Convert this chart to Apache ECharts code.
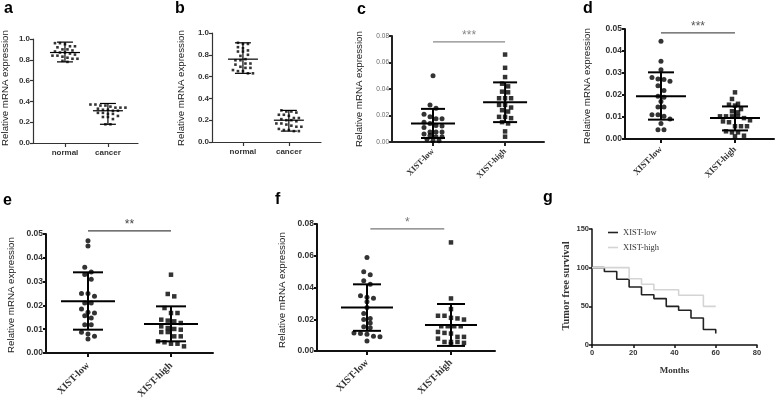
<!DOCTYPE html>
<html><head><meta charset="utf-8">
<script src="https://cdn.jsdelivr.net/npm/echarts@6/dist/echarts.min.js"></script>
<style>html,body{margin:0;padding:0;background:#fff}#c{width:779px;height:402px}</style>
</head><body><div id="c"></div>
<script>
// ---------- data ----------
const catsAB = ['normal', 'cancer'];
const catsXIST = ['XIST-low', 'XIST-high'];
const yTitle = 'Relative mRNA expression';

const aNormal = [0.96,0.96,0.95,0.93,0.93,0.92,0.90,0.90,0.89,0.88,0.87,0.87,0.86,0.85,0.84,0.84,0.83,0.82,0.81,0.81,0.79,0.78];
const aCancer = [0.37,0.37,0.36,0.36,0.35,0.34,0.34,0.34,0.33,0.32,0.32,0.31,0.31,0.29,0.29,0.28,0.28,0.26,0.25,0.25,0.23,0.18,0.18];
const aMean = [0.87, 0.31], aLo = [0.78, 0.18], aHi = [0.97, 0.38];

const bNormal = [0.91,0.90,0.90,0.87,0.86,0.84,0.83,0.83,0.80,0.79,0.76,0.75,0.75,0.72,0.72,0.71,0.69,0.68,0.68,0.66,0.65,0.65,0.63,0.63];
const bCancer = [0.29,0.28,0.28,0.27,0.25,0.25,0.24,0.22,0.22,0.21,0.20,0.20,0.19,0.17,0.17,0.16,0.15,0.14,0.14,0.12,0.11,0.11,0.10,0.10];
const bMean = [0.76, 0.20], bLo = [0.63, 0.10], bHi = [0.91, 0.29];

const cLow = [0.050,0.028,0.0255,0.021,0.019,0.0175,0.0175,0.015,0.014,0.0125,0.012,0.011,0.0075,0.0075,0.0075,0.006,0.005,0.004,0.004,0.002,0.001,0.001];
const cHigh = [0.066,0.056,0.049,0.044,0.042,0.038,0.0375,0.033,0.033,0.033,0.028,0.028,0.026,0.024,0.023,0.019,0.019,0.018,0.015,0.014,0.008,0.004];
const cMean = [0.014, 0.030], cLo = [0.003, 0.015], cHi = [0.025, 0.045];

const dLow = [0.0444,0.0353,0.0315,0.028,0.0273,0.027,0.0262,0.0242,0.0221,0.0194,0.019,0.0171,0.0145,0.0145,0.011,0.011,0.0103,0.0091,0.007,0.0042,0.0042];
const dHigh = [0.0212,0.0182,0.016,0.0156,0.0152,0.0136,0.0126,0.0121,0.0103,0.0103,0.0103,0.0103,0.0095,0.0085,0.008,0.0076,0.0058,0.0058,0.0058,0.0035,0.003,0.003,0.0015,0.0012];
const dMean = [0.0194, 0.0095], dLo = [0.0088, 0.0039], dHi = [0.0303, 0.0148];

const eLow = [0.0472,0.045,0.036,0.034,0.033,0.031,0.025,0.025,0.0238,0.021,0.021,0.0185,0.0171,0.0168,0.0157,0.0147,0.0119,0.0119,0.0087,0.008,0.007,0.0059];
const eHigh = [0.0329,0.0248,0.0238,0.0189,0.0168,0.0168,0.014,0.0136,0.0133,0.0126,0.0112,0.0105,0.0101,0.0098,0.0088,0.0088,0.007,0.007,0.0049,0.0045,0.0039,0.0039,0.0028];
const eMean = [0.0217, 0.0122], eLo = [0.0098, 0.0049], eHi = [0.0339, 0.0196];

const fLow = [0.0589,0.05,0.048,0.0443,0.042,0.0348,0.0338,0.0333,0.031,0.0274,0.0236,0.0205,0.0198,0.0177,0.0152,0.0146,0.0114,0.011,0.0106,0.0093,0.0089,0.0063];
const fHigh = [0.0684,0.0331,0.0264,0.0222,0.0222,0.0209,0.0205,0.0198,0.0156,0.0156,0.0156,0.0156,0.012,0.0114,0.011,0.0089,0.0089,0.0078,0.0057,0.0057,0.0057,0.0051,0.0042];
const fMean = [0.0274, 0.0163], fLo = [0.0127, 0.0032], fHi = [0.042, 0.0296];

// significance bars: [from category, to category, level], text
const cSig = [1, 2, 0.0755], cSigText = '***';
const dSig = [1, 2, 0.0482], dSigText = '***';
const eSig = [1, 2, 0.0513], eSigText = '**';
const fSig = [1.04, 1.92, 0.0769], fSigText = '*';

// survival (g)
const gLowMonths = [0, 6, 12, 18, 24, 30, 36, 42, 48, 54, 60];
const gLowSurv   = [100, 95, 85, 75, 65, 60, 50, 45, 35, 20, 15];
const gHighMonths = [0, 18, 24, 30, 42, 54, 60];
const gHighSurv   = [100, 85.7, 78.6, 71.4, 64.3, 50, 50];
const gSeriesNames = ['XIST-low', 'XIST-high'];

// ---------- layout ----------
const SANS = '"Liberation Sans", Arial, sans-serif';
const SERIF = '"Liberation Serif", "Times New Roman", serif';

const panels = [
  {l:33, t:39, r:138, b:143, xmin:0.256, xmax:2.7, ymax:1.0, yint:0.2, dec:1, cats:catsAB, groups:[aNormal,aCancer], mean:aMean, lo:aLo, hi:aHi,
   sym:['rect','rect'], ss:[2.6,2.6], binPx:3.5, spPx:5, axisW:1.2, axisC:'#333', meanHalf:15, capHalf:8, barW:1.2,
   rot:0, xl:{fontSize:8, fontWeight:'bold', fontFamily:SANS, color:'#333', margin:6}, yl:{fontSize:8, fontWeight:'bold', fontFamily:SANS, color:'#333'}},
  {l:212, t:33, r:321, b:142, xmin:0.326, xmax:2.7, ymax:1.0, yint:0.2, dec:1, cats:catsAB, groups:[bNormal,bCancer], mean:bMean, lo:bLo, hi:bHi,
   sym:['rect','rect'], ss:[2.6,2.6], binPx:3.5, spPx:5, axisW:1.2, axisC:'#333', meanHalf:15, capHalf:8, barW:1.2,
   rot:0, xl:{fontSize:8, fontWeight:'bold', fontFamily:SANS, color:'#333', margin:6}, yl:{fontSize:8, fontWeight:'bold', fontFamily:SANS, color:'#333'}},
  {l:392, t:36, r:544, b:142, xmin:0.431, xmax:2.54, ymax:0.08, yint:0.02, dec:2, cats:catsXIST, groups:[cLow,cHigh], mean:cMean, lo:cLo, hi:cHi,
   sym:['circle','rect'], ss:[5,4.5], binPx:5, spPx:6, axisW:2, axisC:'#222', meanHalf:22, capHalf:12, barW:2,
   rot:45, xl:{fontSize:8.5, fontWeight:'bold', fontFamily:SERIF, color:'#333', margin:8}, yl:{fontSize:6.5, fontFamily:SANS, color:'#666'},
   sig:cSig, sigText:cSigText, sigColor:'#888'},
  {l:625, t:29, r:774, b:139, xmin:0.514, xmax:2.527, ymax:0.05, yint:0.01, dec:2, cats:catsXIST, groups:[dLow,dHigh], mean:dMean, lo:dLo, hi:dHi,
   sym:['circle','rect'], ss:[5,4.5], binPx:5, spPx:6, axisW:2, axisC:'#111', meanHalf:25, capHalf:13, barW:2,
   rot:45, xl:{fontSize:9, fontWeight:'bold', fontFamily:SERIF, color:'#333', margin:9}, yl:{fontSize:8.5, fontWeight:'bold', fontFamily:SANS, color:'#333'},
   sig:dSig, sigText:dSigText, sigColor:'#555'},
  {l:46, t:234, r:213, b:353, xmin:0.494, xmax:2.506, ymax:0.05, yint:0.01, dec:2, cats:catsXIST, groups:[eLow,eHigh], mean:eMean, lo:eLo, hi:eHi,
   sym:['circle','rect'], ss:[5,4.5], binPx:5, spPx:6.5, axisW:2, axisC:'#111', meanHalf:27, capHalf:15, barW:2,
   rot:45, xl:{fontSize:10, fontWeight:'bold', fontFamily:SERIF, color:'#333', margin:11}, yl:{fontSize:8.5, fontWeight:'bold', fontFamily:SANS, color:'#333'},
   sig:eSig, sigText:eSigText, sigColor:'#444'},
  {l:317, t:224, r:495, b:351, xmin:0.405, xmax:2.524, ymax:0.08, yint:0.02, dec:2, cats:catsXIST, groups:[fLow,fHigh], mean:fMean, lo:fLo, hi:fHi,
   sym:['circle','rect'], ss:[5,4.5], binPx:5, spPx:6.5, axisW:2, axisC:'#111', meanHalf:26, capHalf:14, barW:2,
   rot:45, xl:{fontSize:10, fontWeight:'bold', fontFamily:SERIF, color:'#333', margin:10}, yl:{fontSize:8.5, fontWeight:'bold', fontFamily:SANS, color:'#333'},
   sig:fSig, sigText:fSigText, sigColor:'#777'}
];

function swarm(vals, center, binU, spU) {
  const s = vals.slice().sort((a, b) => b - a);
  const out = [];
  let row = [];
  const flush = () => {
    const n = row.length;
    row.forEach((v, k) => out.push([center + (k - (n - 1) / 2) * spU, v]));
    row = [];
  };
  for (const v of s) {
    if (row.length && row[0] - v > binU) flush();
    row.push(v);
  }
  flush();
  return out;
}

const grid = [], xAxis = [], yAxis = [], series = [];

panels.forEach((p, i) => {
  const w = p.r - p.l, h = p.b - p.t;
  grid.push({left: p.l, top: p.t, width: w, height: h});
  const pxX = w / (p.xmax - p.xmin), pxY = h / p.ymax;
  const ls = {color: p.axisC, width: p.axisW};
  xAxis.push({
    gridIndex: i, type: 'value', min: p.xmin, max: p.xmax,
    axisLine: {show: true, onZero: false, lineStyle: ls},
    splitLine: {show: false},
    axisTick: {show: true, customValues: [1, 2], length: 4, lineStyle: ls},
    axisLabel: Object.assign({show: true, customValues: [1, 2], rotate: p.rot,
      formatter: v => p.cats[Math.round(v) - 1] || ''}, p.xl)
  });
  yAxis.push({
    gridIndex: i, type: 'value', min: 0, max: p.ymax, interval: p.yint,
    axisLine: {show: true, onZero: false, lineStyle: ls},
    splitLine: {show: false},
    axisTick: {show: true, length: 3, lineStyle: ls},
    axisLabel: Object.assign({margin: 3, formatter: v => v.toFixed(p.dec)}, p.yl)
  });
  p.groups.forEach((g, k) => {
    series.push({
      type: 'scatter', xAxisIndex: i, yAxisIndex: i, silent: true,
      symbol: p.sym[k], symbolSize: p.ss[k],
      itemStyle: {color: '#000'},
      data: swarm(g, k + 1, p.binPx / pxY, p.spPx / pxX)
    });
  });
  series.push({
    type: 'custom', xAxisIndex: i, yAxisIndex: i, silent: true, clip: false,
    data: [0, 1].map(k => [k + 1, p.mean[k], p.lo[k], p.hi[k]]),
    renderItem: (params, api) => {
      const x = api.value(0);
      const m = api.coord([x, api.value(1)]);
      const lo = api.coord([x, api.value(2)]);
      const hi = api.coord([x, api.value(3)]);
      const st = {stroke: '#000', lineWidth: p.barW};
      return {type: 'group', children: [
        {type: 'line', shape: {x1: m[0] - p.meanHalf, y1: m[1], x2: m[0] + p.meanHalf, y2: m[1]}, style: st},
        {type: 'line', shape: {x1: lo[0], y1: lo[1], x2: hi[0], y2: hi[1]}, style: st},
        {type: 'line', shape: {x1: lo[0] - p.capHalf, y1: lo[1], x2: lo[0] + p.capHalf, y2: lo[1]}, style: st},
        {type: 'line', shape: {x1: hi[0] - p.capHalf, y1: hi[1], x2: hi[0] + p.capHalf, y2: hi[1]}, style: st}
      ]};
    }
  });
  if (p.sig) {
    series.push({
      type: 'custom', xAxisIndex: i, yAxisIndex: i, silent: true, clip: false,
      data: [p.sig],
      renderItem: (params, api) => {
        const a = api.coord([api.value(0), api.value(2)]);
        const b = api.coord([api.value(1), api.value(2)]);
        return {type: 'group', children: [
          {type: 'line', shape: {x1: a[0], y1: a[1], x2: b[0], y2: b[1]}, style: {stroke: p.sigColor, lineWidth: 1.3}},
          {type: 'text', x: (a[0] + b[0]) / 2, y: a[1] - 6,
           style: {text: p.sigText, fill: p.sigColor, font: '12px ' + SANS, textAlign: 'center', textVerticalAlign: 'middle'}}
        ]};
      }
    });
  }
});

// panel g: survival
const gi = panels.length;
grid.push({left: 592, top: 229, width: 165, height: 116});
const gls = {color: '#111', width: 1.5};
xAxis.push({gridIndex: gi, type: 'value', min: 0, max: 80, interval: 20,
  axisLine: {show: true, onZero: false, lineStyle: gls}, splitLine: {show: false},
  axisTick: {show: true, length: 3, lineStyle: gls},
  axisLabel: {fontSize: 7.5, fontWeight: 'bold', fontFamily: SANS, color: '#333', margin: 4},
  name: 'Months', nameLocation: 'middle', nameGap: 21,
  nameTextStyle: {fontSize: 9, fontWeight: 'bold', fontFamily: SERIF, color: '#333'}});
yAxis.push({gridIndex: gi, type: 'value', min: 0, max: 150, interval: 50,
  axisLine: {show: true, onZero: false, lineStyle: gls}, splitLine: {show: false},
  axisTick: {show: true, length: 3, lineStyle: gls},
  axisLabel: {fontSize: 7.5, fontWeight: 'bold', fontFamily: SANS, color: '#333', margin: 3}});
series.push({type: 'line', name: gSeriesNames[0], xAxisIndex: gi, yAxisIndex: gi, step: 'end', symbol: 'none',
  lineStyle: {color: '#222', width: 1.6}, itemStyle: {color: '#222'},
  data: gLowMonths.map((m, k) => [m, gLowSurv[k]])});
series.push({type: 'line', name: gSeriesNames[1], xAxisIndex: gi, yAxisIndex: gi, step: 'end', symbol: 'none',
  lineStyle: {color: '#d4d4d4', width: 1.6}, itemStyle: {color: '#d4d4d4'},
  data: gHighMonths.map((m, k) => [m, gHighSurv[k]])});

// text annotations
const letters = [['a', 4, 1], ['b', 175, 1], ['c', 357, 2], ['d', 583, 1], ['e', 3, 193], ['f', 275, 192], ['g', 543, 190]];
const titles = [[yTitle, 5, 88], [yTitle, 181, 88], [yTitle, 359, 89], [yTitle, 587, 86], [yTitle, 11, 295], [yTitle, 282, 290]];
const graphic = [];
letters.forEach(([t, x, y]) => graphic.push({type: 'text', x, y,
  style: {text: t, font: 'bold 16px ' + SANS, fill: '#000', textVerticalAlign: 'top'}}));
titles.forEach(([t, x, y]) => graphic.push({type: 'text', x, y, rotation: Math.PI / 2,
  style: {text: t, font: '9.7px ' + SANS, fill: '#222', textAlign: 'center', textVerticalAlign: 'middle'}}));
graphic.push({type: 'text', x: 566, y: 286, rotation: Math.PI / 2,
  style: {text: 'Tumor free survival', font: 'bold 10.5px ' + SERIF, fill: '#333', textAlign: 'center', textVerticalAlign: 'middle'}});

const chart = echarts.init(document.getElementById('c'), null, {renderer: 'canvas'});
chart.setOption({
  animation: false,
  backgroundColor: '#fff',
  grid, xAxis, yAxis, series, graphic,
  legend: {data: gSeriesNames, orient: 'vertical', left: 603, top: 223, icon: 'rect', itemWidth: 10, itemHeight: 1.6, itemGap: 6,
    textStyle: {fontFamily: SERIF, fontSize: 8.5, color: '#333', lineHeight: 7}}
});
</script>
</body></html>
